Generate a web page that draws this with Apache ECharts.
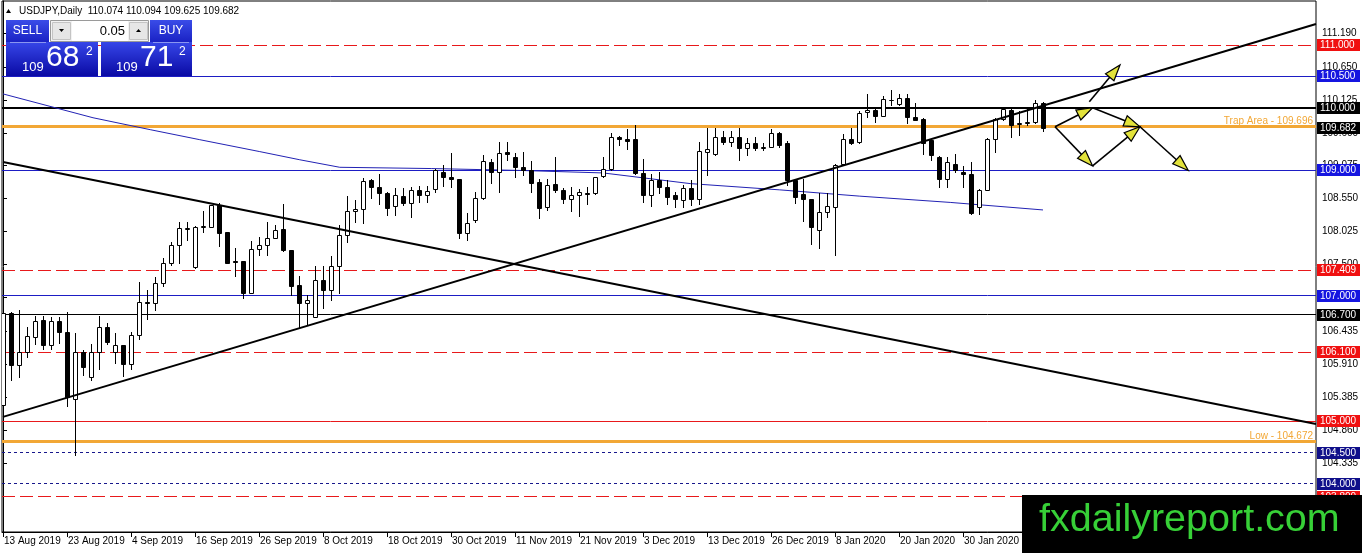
<!DOCTYPE html>
<html>
<head>
<meta charset="utf-8">
<title>USDJPY Daily</title>
<script src="https://cdn.jsdelivr.net/npm/echarts@6/dist/echarts.min.js"></script>
<style>
html, body { margin: 0; padding: 0; background: #fff; }
#main { width: 1362px; height: 553px; }
</style>
</head>
<body>
<div id="main"></div>
<script>
// daily bars from 13 Aug 2019, one value per bar
var opens = [105.26,106.72,105.89,106.10,106.34,106.61,106.21,106.60,106.43,105.36,
  106.11,105.71,106.10,106.50,106.10,106.21,105.92,106.38,106.91,106.88,
  107.21,107.52,107.81,108.07,107.46,108.10,108.09,108.45,108.02,107.55,
  107.55,107.05,107.74,107.81,107.93,108.07,107.73,107.17,106.89,106.66,
  107.26,107.09,107.47,107.97,108.35,108.38,108.85,108.74,108.64,108.43,
  108.59,108.48,108.69,108.61,108.70,108.98,108.89,108.86,108.01,108.21,
  108.56,109.14,108.98,109.29,109.21,109.05,109.00,108.82,108.42,108.78,
  108.69,108.54,108.61,108.64,108.64,108.91,109.02,109.53,109.50,109.50,
  108.96,108.61,108.85,108.73,108.61,108.53,108.72,108.54,109.30,109.26,
  109.53,109.46,109.53,109.35,109.43,109.36,109.38,109.60,109.44,108.85,
  108.62,108.54,108.05,108.33,108.42,109.10,109.50,109.46,109.93,109.96,
  109.87,110.13,110.06,110.15,109.85,109.82,109.48,109.21,108.87,109.11,
  108.98,108.94,108.42,108.69,109.50,109.82,109.96,109.74,109.76,109.77,
  110.074];
var closes = [106.72,105.89,106.10,106.36,106.60,106.21,106.60,106.42,105.38,106.10,
  105.86,106.10,106.50,106.26,106.21,105.92,106.38,106.91,106.89,107.21,
  107.52,107.81,108.08,108.08,108.10,108.11,108.45,108.01,107.53,107.54,
  107.05,107.74,107.81,107.92,108.05,107.73,107.15,106.89,106.93,107.26,
  107.09,107.47,107.97,108.36,108.39,108.83,108.74,108.64,108.40,108.61,
  108.48,108.69,108.61,108.67,109.00,108.89,108.86,108.01,108.16,108.56,
  109.15,108.98,109.28,109.26,109.05,109.00,108.80,108.40,108.77,108.69,
  108.54,108.61,108.65,108.63,108.89,109.02,109.53,109.50,109.47,108.96,
  108.61,108.85,108.73,108.57,108.54,108.72,108.54,109.31,109.34,109.53,
  109.46,109.53,109.35,109.43,109.35,109.37,109.60,109.41,108.85,108.58,
  108.54,108.09,108.34,108.43,109.09,109.50,109.44,109.91,109.96,109.87,
  110.14,110.12,110.15,109.85,109.81,109.44,109.25,108.87,109.14,109.00,
  108.94,108.32,108.69,109.50,109.82,109.98,109.72,109.75,109.77,110.07,
  109.682];
var lows = [105.20,105.66,105.70,106.02,106.24,106.15,106.15,106.25,105.25,104.46,
  105.74,105.66,105.83,106.24,105.93,105.73,105.83,106.32,106.63,106.78,
  107.15,107.49,107.52,107.89,107.45,108.02,108.09,107.79,107.52,107.31,
  106.96,107.04,107.65,107.65,107.92,107.71,107.01,106.51,106.55,106.66,
  106.80,106.93,107.05,107.86,108.18,108.16,108.56,108.46,108.29,108.29,
  108.45,108.25,108.49,108.50,108.65,108.75,108.73,107.92,107.89,108.18,
  108.54,108.80,108.65,109.17,108.89,108.93,108.66,108.24,108.37,108.65,
  108.48,108.36,108.27,108.47,108.62,108.89,109.00,109.41,109.34,108.95,
  108.50,108.43,108.64,108.46,108.41,108.42,108.45,108.47,108.93,109.25,
  109.42,109.39,109.17,109.25,109.32,109.33,109.37,109.38,108.77,108.48,
  108.20,107.83,107.76,108.25,107.65,109.09,109.42,109.44,109.85,109.78,
  109.86,110.04,110.04,109.75,109.80,109.26,109.16,108.73,108.74,108.98,
  108.74,108.30,108.30,108.68,109.30,109.80,109.53,109.57,109.72,109.76,
  109.625];
var highs = [106.97,106.75,106.78,106.51,106.68,106.68,106.66,106.67,106.74,106.41,
  106.14,106.24,106.68,106.56,106.40,106.21,106.43,107.22,107.10,107.30,
  107.60,107.86,108.17,108.17,108.12,108.36,108.45,108.48,108.02,107.76,
  107.55,107.88,107.94,108.17,108.13,108.47,107.73,107.31,107.01,107.47,
  107.47,107.63,108.13,108.60,108.53,108.88,108.86,108.94,108.65,108.72,
  108.72,108.74,108.75,108.75,109.02,109.09,109.27,108.87,108.32,108.66,
  109.25,109.19,109.46,109.46,109.27,109.30,109.15,108.86,108.86,109.22,
  108.72,108.73,108.70,108.73,108.90,109.21,109.60,109.55,109.66,109.72,
  109.19,108.95,108.98,108.85,108.66,108.77,108.84,109.46,109.67,109.67,
  109.63,109.63,109.67,109.51,109.53,109.43,109.66,109.62,109.47,108.87,
  108.86,108.55,108.64,108.64,109.10,109.58,109.67,109.94,110.22,109.99,
  110.18,110.28,110.22,110.22,110.08,109.83,109.49,109.23,109.22,109.26,
  109.07,109.14,108.70,109.51,109.83,110.00,110.00,109.94,109.99,110.13,
  110.094];

// time axis labels, one every 8 bars from bar 0
var dateLabels = ['13 Aug 2019','23 Aug 2019','4 Sep 2019','16 Sep 2019','26 Sep 2019',
  '8 Oct 2019','18 Oct 2019','30 Oct 2019','11 Nov 2019','21 Nov 2019','3 Dec 2019',
  '13 Dec 2019','26 Dec 2019','8 Jan 2020','20 Jan 2020','30 Jan 2020'];

// price scale ticks as printed on the right
var priceTicks = [111.190,110.650,110.125,109.600,109.075,108.550,108.025,107.500,
  106.975,106.435,105.910,105.385,104.860,104.335];

// horizontal levels drawn on the chart, last one is the current bid
var levelValues = [111.000,110.500,110.000,109.696,109.000,107.409,107.000,106.700,
  106.100,105.000,104.672,104.500,104.000,103.800,109.682];
var levelTexts = {3: 'Trap Area - 109.696', 10: 'Low - 104.672'};

// moving average, [bar, price]
var maPoints = [[0,110.22],[11.25,109.84],[18.4,109.65],[24.6,109.49],[32.1,109.30],
  [37.1,109.17],[42.1,109.05],[53.6,109.03],[64.6,109.00],[75,108.96],[85.9,108.79],
  [97.1,108.69],[107.1,108.59],[118.4,108.49],[130,108.37]];

// trend lines, [bar, price] ends
var trendUp = [[0,105.07],[164.125,111.335]];
var trendDown = [[0,109.134],[164.125,104.957]];

// scenario arrows, [bar1, price1, bar2, price2]
var arrows = [[131.5,109.696,136.2,110.0],[136.2,110.0,142.125,109.696],
  [142.125,109.696,148.16,109.0],[131.5,109.696,136.2,109.071],
  [136.2,109.071,142.125,109.696],[135.79,110.096,139.625,110.681]];

var FONT = 'Liberation Sans, Arial, sans-serif';
var RED = '#e8191b', BLUE = '#1d1dc4', NAVY = '#17178c', ORANGE = '#f2a735';
var BOXRED = '#f01010', BOXBLUE = '#1515e0', BOXNAVY = '#0f0f8a';
var DASH = [13, 5], DOT = [3, 3];

var levelLook = [
  {color: RED, dash: DASH, width: 1, box: BOXRED},
  {color: BLUE, width: 1, box: BOXBLUE},
  {color: '#000', width: 2, box: '#000'},
  {color: ORANGE, width: 3},
  {color: BLUE, width: 1, box: BOXBLUE},
  {color: RED, dash: DASH, width: 1, box: BOXRED},
  {color: BLUE, width: 1, box: BOXBLUE},
  {color: '#000', width: 1, box: '#000'},
  {color: RED, dash: DASH, width: 1, box: BOXRED},
  {color: RED, width: 1, box: BOXRED},
  {color: ORANGE, width: 3},
  {color: NAVY, dash: DOT, width: 1, box: BOXNAVY},
  {color: NAVY, dash: DOT, width: 1, box: BOXNAVY},
  {color: RED, dash: DASH, width: 1, box: BOXRED},
  {width: 0, box: '#000'}
];

function renderLevel(params, api) {
  var cs = params.coordSys;
  var look = levelLook[params.dataIndex];
  var v = api.value(0);
  var y = api.coord([0, v])[1];
  var kids = [];
  if (look.width) {
    var yl = look.width % 2 ? Math.floor(y) + 0.5 : Math.round(y);
    kids.push({type: 'line', shape: {x1: cs.x, y1: yl, x2: cs.x + cs.width, y2: yl},
      style: {stroke: look.color, lineWidth: look.width, lineDash: look.dash || null}});
  }
  if (look.box) {
    var yb = Math.round(y);
    kids.push({type: 'rect', shape: {x: cs.x + cs.width + 1, y: yb - 6, width: 43, height: 12},
      style: {fill: look.box}});
    kids.push({type: 'text', x: cs.x + cs.width + 4, y: yb + 0.5,
      style: {text: v.toFixed(3), fill: '#fff', fontSize: 10, fontFamily: FONT, verticalAlign: 'middle'}});
  }
  if (levelTexts[params.dataIndex]) {
    kids.push({type: 'text', x: cs.x + cs.width - 3, y: Math.round(y) - 6,
      style: {text: levelTexts[params.dataIndex], fill: ORANGE, fontSize: 10, fontFamily: FONT,
        align: 'right', verticalAlign: 'middle'}});
  }
  return {type: 'group', children: kids};
}

var candleData = opens.map(function (o, i) {
  return [i, o, closes[i], lows[i], highs[i]];
});

function renderCandle(params, api) {
  var i = api.value(0);
  var o = api.coord([i, api.value(1)]);
  var c = api.coord([i, api.value(2)]);
  var l = api.coord([i, api.value(3)]);
  var h = api.coord([i, api.value(4)]);
  var x = Math.round(o[0]);
  var top = Math.round(Math.min(o[1], c[1]));
  var bot = Math.round(Math.max(o[1], c[1]));
  var up = api.value(2) >= api.value(1);
  return {
    type: 'group',
    children: [
      {type: 'line', shape: {x1: x + 0.5, y1: Math.round(h[1]), x2: x + 0.5, y2: Math.round(l[1]) + 1},
        style: {stroke: '#000', lineWidth: 1}},
      {type: 'rect', shape: {x: x - 1.5, y: top + 0.5, width: 4, height: Math.max(bot - top, 0)},
        style: {fill: up ? '#fff' : '#000', stroke: '#000', lineWidth: 1}}
    ]
  };
}

function renderArrow(params, api) {
  var a = api.coord([api.value(0), api.value(1)]);
  var b = api.coord([api.value(2), api.value(3)]);
  var dx = b[0] - a[0], dy = b[1] - a[1];
  var len = Math.sqrt(dx * dx + dy * dy);
  var ux = dx / len, uy = dy / len;
  var bx = b[0] - ux * 16, by = b[1] - uy * 16;
  return {
    type: 'group',
    children: [
      {type: 'line', shape: {x1: a[0], y1: a[1], x2: b[0] - ux * 4, y2: b[1] - uy * 4},
        style: {stroke: '#000', lineWidth: 1.6}},
      {type: 'polygon', shape: {points: [[b[0], b[1]], [bx - uy * 5.5, by + ux * 5.5], [bx + uy * 5.5, by - ux * 5.5]]},
        style: {fill: '#e2e23a', stroke: '#000', lineWidth: 1.2}}
    ]
  };
}

var dateTicks = dateLabels.map(function (d, k) { return k * 8; });

var blue = new echarts.graphic.LinearGradient(0, 0, 0, 1, [
  {offset: 0, color: '#3646e8'}, {offset: 1, color: '#0a0aa4'}
]);
var blueBtn = new echarts.graphic.LinearGradient(0, 0, 0, 1, [
  {offset: 0, color: '#3a4ce8'}, {offset: 1, color: '#1a22c4'}
]);

// y is the vertical middle of the text
function txt(x, y, s, size, fill, align) {
  return {type: 'text', x: x, y: y, z: 101,
    style: {text: s, fontSize: size, fontFamily: FONT, fill: fill || '#000',
      align: align || 'left', verticalAlign: 'middle'}};
}

var panel = [
  {type: 'polygon', z: 100, shape: {points: [[6, 13], [8.5, 9], [11, 13]]}, style: {fill: '#000'}},
  txt(19, 11, 'USDJPY,Daily  110.074 110.094 109.625 109.682', 10),
  {type: 'rect', z: 100, shape: {x: 6, y: 20, width: 43, height: 22}, style: {fill: blueBtn}},
  {type: 'rect', z: 100, shape: {x: 150, y: 20, width: 42, height: 22}, style: {fill: blueBtn}},
  {type: 'rect', z: 100, shape: {x: 50.5, y: 20.5, width: 98, height: 21}, style: {fill: '#f2f2f2', stroke: '#9a9a9a'}},
  {type: 'rect', z: 100, shape: {x: 52.5, y: 22.5, width: 18, height: 17}, style: {fill: '#e6e6e6', stroke: '#c4c4c4'}},
  {type: 'rect', z: 100, shape: {x: 72, y: 21, width: 56, height: 20}, style: {fill: '#fff'}},
  {type: 'rect', z: 100, shape: {x: 129.5, y: 22.5, width: 18, height: 17}, style: {fill: '#e6e6e6', stroke: '#c4c4c4'}},
  {type: 'polygon', z: 101, shape: {points: [[59, 29], [64, 29], [61.5, 32]]}, style: {fill: '#000'}},
  {type: 'polygon', z: 101, shape: {points: [[136, 32], [141, 32], [138.5, 29]]}, style: {fill: '#000'}},
  txt(125, 31, '0.05', 13, '#000', 'right'),
  txt(27.5, 31, 'SELL', 12, '#fff', 'center'),
  txt(171, 31, 'BUY', 12, '#fff', 'center'),
  {type: 'rect', z: 100, shape: {x: 6, y: 42, width: 92, height: 34}, style: {fill: blue}},
  {type: 'rect', z: 100, shape: {x: 101, y: 42, width: 91, height: 34}, style: {fill: blue}},
  {type: 'line', z: 101, shape: {x1: 10, y1: 42.5, x2: 46, y2: 42.5}, style: {stroke: '#8a96f0', lineWidth: 1}},
  {type: 'line', z: 101, shape: {x1: 153, y1: 42.5, x2: 189, y2: 42.5}, style: {stroke: '#8a96f0', lineWidth: 1}},
  txt(22, 67, '109', 13, '#fff'),
  txt(46, 58, '68', 30, '#fff'),
  txt(86, 52, '2', 12, '#fff'),
  txt(116, 67, '109', 13, '#fff'),
  txt(140, 58, '71', 30, '#fff'),
  txt(179, 52, '2', 12, '#fff'),
  {type: 'rect', z: 100, shape: {x: 1022, y: 495, width: 340, height: 58}, style: {fill: '#000'}},
  txt(1039, 520, 'fxdailyreport.com', 39.5, '#37d037')
];

var myChart = echarts.init(document.getElementById('main'));
var option = {
  animation: false,
  backgroundColor: '#fff',
  textStyle: {fontFamily: FONT},
  grid: {left: 2, right: 46, top: 1, bottom: 21, show: true, borderColor: '#000', borderWidth: 1,
    outerBoundsMode: 'none'},
  xAxis: {
    type: 'value', min: -0.125, max: 164.125,
    axisLine: {show: true, lineStyle: {color: '#000'}},
    axisTick: {show: true, length: 5, lineStyle: {color: '#000'}, customValues: dateTicks},
    axisLabel: {
      customValues: dateTicks, align: 'left', margin: 4, color: '#000', fontSize: 10, fontFamily: FONT,
      padding: [0, 0, 0, 1],
      formatter: function (v) { return dateLabels[Math.round(v / 8)] || ''; }
    },
    splitLine: {show: false}
  },
  yAxis: {
    type: 'value', position: 'right', min: 103.2346, max: 111.7016, scale: true,
    axisLine: {show: true, lineStyle: {color: '#000'}},
    axisTick: {show: true, length: 4, inside: false, lineStyle: {color: '#000'}, customValues: priceTicks},
    axisLabel: {
      customValues: priceTicks, margin: 6, color: '#000', fontSize: 10, fontFamily: FONT,
      formatter: function (v) { return v.toFixed(3); }
    },
    splitLine: {show: false}
  },
  series: [
    {
      name: 'levels', type: 'custom', data: levelValues.map(function (v) { return [v]; }),
      renderItem: renderLevel, clip: false, silent: true, z: 2,
      encode: {y: 0}
    },
    {
      name: 'MA', type: 'line', data: maPoints, showSymbol: false, silent: true, z: 3,
      lineStyle: {color: '#2222b4', width: 1}
    },
    {
      name: 'USDJPY', type: 'custom', data: candleData, renderItem: renderCandle, clip: true, z: 4,
      encode: {x: 0, y: [1, 2, 3, 4]}, silent: true
    },
    {
      name: 'trend up', type: 'line', data: trendUp, showSymbol: false, silent: true, clip: true, z: 5,
      lineStyle: {color: '#000', width: 2}
    },
    {
      name: 'trend down', type: 'line', data: trendDown, showSymbol: false, silent: true, clip: true, z: 5,
      lineStyle: {color: '#000', width: 2}
    },
    {
      name: 'arrows', type: 'custom', data: arrows, renderItem: renderArrow, clip: true, z: 6,
      encode: {x: [0, 2], y: [1, 3]}, silent: true
    }
  ],
  graphic: {elements: panel}
};

myChart.setOption(option);
window.onresize = myChart.resize;
</script>
</body>
</html>
